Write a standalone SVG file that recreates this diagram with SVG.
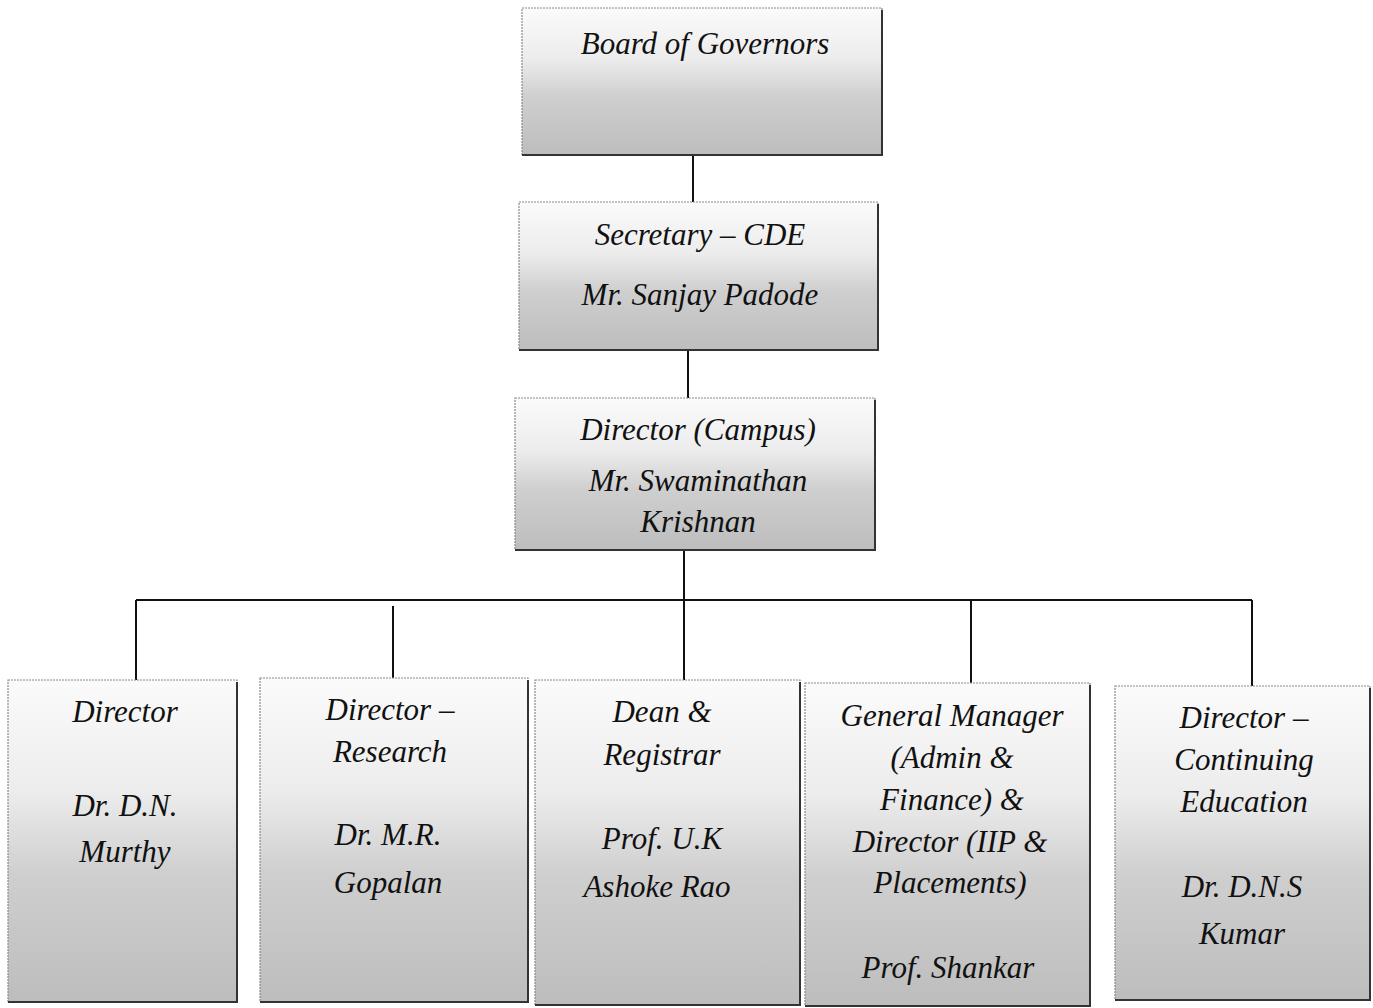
<svg xmlns="http://www.w3.org/2000/svg" width="1373" height="1008" viewBox="0 0 1373 1008">
<style>
.box{fill:url(#g);stroke:#8a8a8a;stroke-width:1.2;stroke-dasharray:2 1}
.sh{fill:none;stroke:#333;stroke-width:2}
.t{font-family:"Liberation Serif","Times New Roman",serif;font-style:italic;font-size:31px;fill:#111;text-anchor:middle}
.c{stroke:#111;stroke-width:2;fill:none}
</style>
<defs>
<linearGradient id="g" x1="0" y1="0" x2="0" y2="1">
<stop offset="0" stop-color="#fbfbfb"/>
<stop offset="0.35" stop-color="#ececec"/>
<stop offset="0.6" stop-color="#cfcfcf"/>
<stop offset="1" stop-color="#bdbdbd"/>
</linearGradient>
</defs>
<rect width="1373" height="1008" fill="#fff"/>
<g id="connectors">
<line class="c" x1="693" y1="155" x2="693" y2="202"/>
<line class="c" x1="688" y1="350" x2="688" y2="398"/>
<line class="c" x1="684" y1="550" x2="684" y2="680"/>
<line class="c" x1="136" y1="600" x2="1252" y2="600"/>
<line class="c" x1="136" y1="600" x2="136" y2="680"/>
<line class="c" x1="393" y1="606" x2="393" y2="678"/>
<line class="c" x1="971" y1="600" x2="971" y2="683"/>
<line class="c" x1="1252" y1="600" x2="1252" y2="686"/>
</g>
<g id="board">
<rect class="box" x="522" y="8" width="360" height="147"/>
<polyline class="sh" points="522,155 882,155 882,10"/>
<text class="t" x="705" y="54">Board of Governors</text>
</g>
<g id="secretary">
<rect class="box" x="519" y="202" width="359" height="148"/>
<polyline class="sh" points="519,350 878,350 878,204"/>
<text class="t" x="700" y="245">Secretary – CDE</text>
<text class="t" x="700" y="305">Mr. Sanjay Padode</text>
</g>
<g id="director-campus">
<rect class="box" x="515" y="398" width="360" height="152"/>
<polyline class="sh" points="515,550 875,550 875,400"/>
<text class="t" x="698" y="440">Director (Campus)</text>
<text class="t" x="698" y="491">Mr. Swaminathan</text>
<text class="t" x="698" y="532">Krishnan</text>
</g>
<g id="director">
<rect class="box" x="8" y="680" width="229" height="322"/>
<polyline class="sh" points="8,1002 237,1002 237,682"/>
<text class="t" x="125" y="722">Director</text>
<text class="t" x="125" y="816">Dr. D.N.</text>
<text class="t" x="125" y="862">Murthy</text>
</g>
<g id="director-research">
<rect class="box" x="260" y="678" width="268" height="324"/>
<polyline class="sh" points="260,1002 528,1002 528,680"/>
<text class="t" x="390" y="720">Director –</text>
<text class="t" x="390" y="762">Research</text>
<text class="t" x="388" y="845">Dr. M.R.</text>
<text class="t" x="388" y="893">Gopalan</text>
</g>
<g id="dean-registrar">
<rect class="box" x="535" y="680" width="265" height="325"/>
<polyline class="sh" points="535,1005 800,1005 800,682"/>
<text class="t" x="662" y="722">Dean &amp;</text>
<text class="t" x="662" y="765">Registrar</text>
<text class="t" x="662" y="849">Prof. U.K</text>
<text class="t" x="657" y="897">Ashoke Rao</text>
</g>
<g id="general-manager">
<rect class="box" x="805" y="683" width="285" height="323"/>
<polyline class="sh" points="805,1006 1090,1006 1090,685"/>
<text class="t" x="952" y="726">General Manager</text>
<text class="t" x="952" y="768">(Admin &amp;</text>
<text class="t" x="952" y="810">Finance) &amp;</text>
<text class="t" x="950" y="852">Director (IIP &amp;</text>
<text class="t" x="950" y="893">Placements)</text>
<text class="t" x="948" y="978">Prof. Shankar</text>
</g>
<g id="director-continuing-education">
<rect class="box" x="1115" y="686" width="255" height="314"/>
<polyline class="sh" points="1115,1000 1370,1000 1370,688"/>
<text class="t" x="1244" y="728">Director –</text>
<text class="t" x="1244" y="770">Continuing</text>
<text class="t" x="1244" y="812">Education</text>
<text class="t" x="1242" y="897">Dr. D.N.S</text>
<text class="t" x="1242" y="944">Kumar</text>
</g>
</svg>
